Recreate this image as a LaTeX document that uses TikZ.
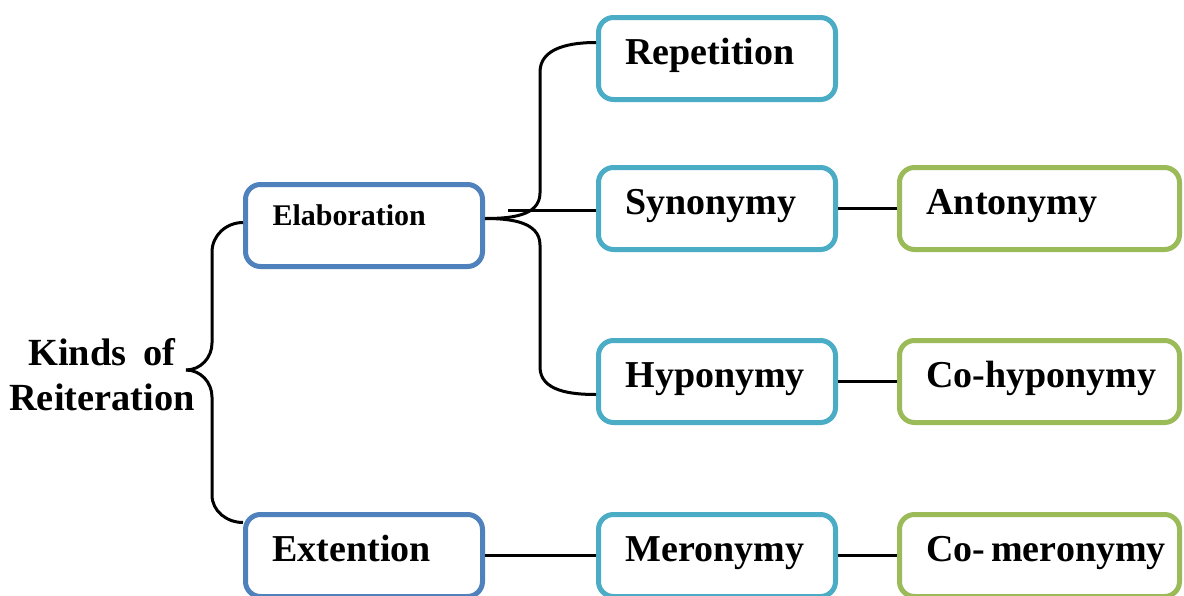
\documentclass[tikz,border=0pt]{standalone}
\usepackage{fontspec}
\setmainfont{Liberation Serif}
\usetikzlibrary{calc}
\definecolor{elabblue}{RGB}{79,129,189}
\definecolor{relteal}{RGB}{75,172,198}
\definecolor{pairgreen}{RGB}{155,187,89}

\begin{document}
\begin{tikzpicture}[x=0.5pt,y=-0.5pt,
  kind/.style={draw=elabblue,line width=2.5pt,rounded corners=7.5pt,fill=white,
    minimum height=41pt,inner xsep=13.5pt,text width=91.5pt,align=left,
    font=\bfseries\fontsize{19}{22}\selectfont,text height=0.7em,text depth=0.1em},
  rel/.style={kind,draw=relteal},
  pair/.style={kind,draw=pairgreen,text width=113pt},
  link/.style={line width=1.5pt}]
\useasboundingbox (0,0) rectangle (1184,595);
\node[align=center,font=\bfseries\fontsize{19.2}{22.5}\selectfont] (kinds) at (102,375) {Kinds\hspace{0.2em} of\\Reiteration};
\node[kind,font=\bfseries\fontsize{15}{18}\selectfont,text depth=0.7em] (elab) at (364,225.5) {Elaboration};
\node[kind] (ext) at (364,555.5) {Extention};
\node[rel] (rep) at (717,58.5) {Repetition};
\node[rel] (syn) at (717,208.5) {Synonymy};
\node[rel] (hypo) at (717,381.5) {Hyponymy};
\node[rel] (mero) at (717,555.5) {Meronymy};
\node[pair] (anto) at (1039.5,208.5) {Antonymy};
\node[pair] (cohypo) at (1039.5,381.5) {\mbox{Co-hyponymy}};
\node[pair] (comero) at (1039.5,555.5) {\mbox{Co-\hspace{0.15em}meronymy}};
% brace on the left
\coordinate (tip) at (186,370);
\draw[link] ($(elab.west)+(0,-3)$) to[out=180,in=90] (212,252) -- (212,343) to[out=-90,in=0] (tip);
\draw[link] (tip) to[out=0,in=90] (212,397) -- (212,495) to[out=-90,in=180] ($(ext.west)+(0,-33)$);
% brace from Elaboration
\coordinate (elabout) at ($(elab.east)+(0,-7)$);
\coordinate (synin) at (508,210);
\draw[link] (elabout) to[out=0,in=-90] (540,193) -- (540,72) to[out=90,in=180] ($(rep.west)+(0,-16)$);
\draw[link] (elabout) to[out=0,in=90] (540,245) -- (540,367) to[out=-90,in=180] ($(hypo.west)+(0,13)$);
\draw[link] (synin) -- (synin -| syn.west);
% straight links
\draw[link] (syn.east) -- (anto.west);
\draw[link] (hypo.east) -- (cohypo.west);
\draw[link] (ext.east) -- (mero.west);
\draw[link] (mero.east) -- (comero.west);
\end{tikzpicture}
\end{document}
